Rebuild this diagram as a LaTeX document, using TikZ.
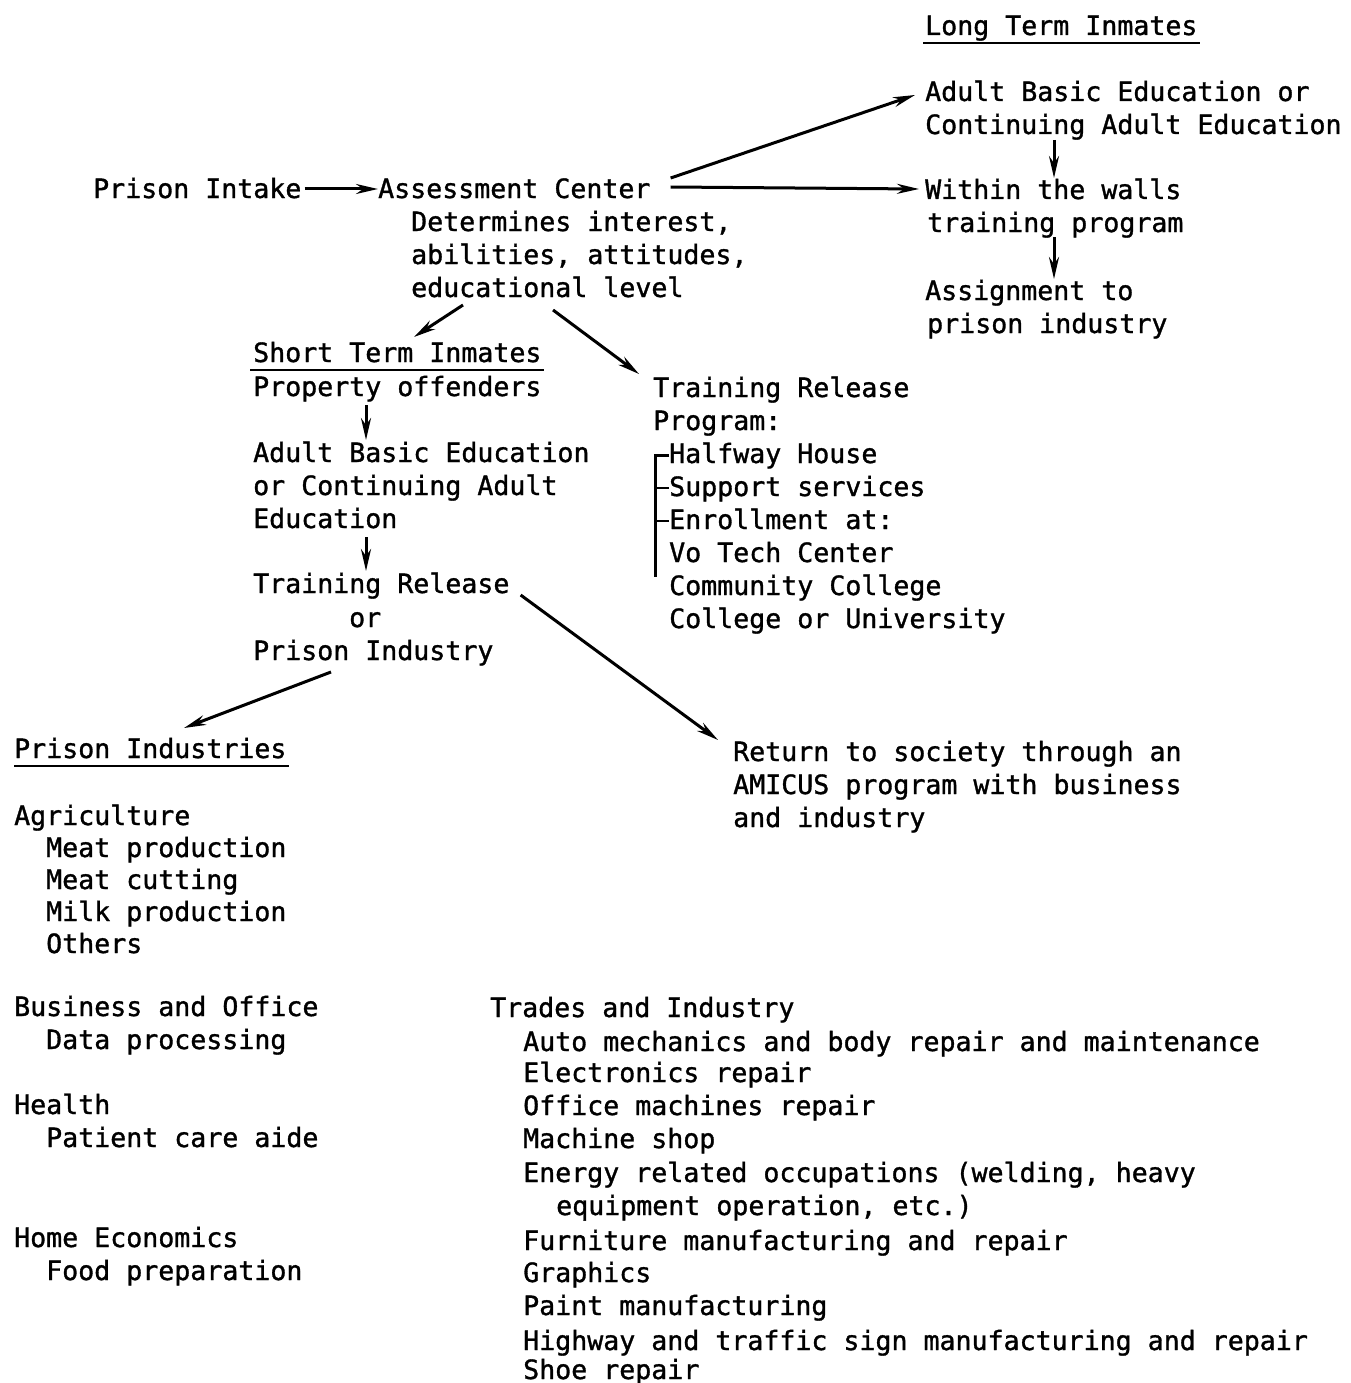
\documentclass[tikz,border=0pt]{standalone}
\usepackage{fontspec}
\setmonofont[FakeBold=1.2]{DejaVu Sans Mono}
\usetikzlibrary{arrows.meta,calc}
\begin{document}
\begin{tikzpicture}[x=1pt,y=-1pt,
  t/.style={anchor=base west,inner sep=0pt,font=\ttfamily\fontsize{26.6}{33}\selectfont},
  arr/.style={line width=3pt,-{Stealth[length=22pt,width=10pt]}},
  ln/.style={line width=2.6pt}]
\useasboundingbox[fill=white] (0,0) rectangle (1350,1383);

% Long term inmates
\node[t] (lti) at (925,35) {Long Term Inmates};
\node[t] (la1) at (925,101) {Adult Basic Education or};
\node[t] (la2) at (925,134) {Continuing Adult Education};
\node[t] (lw1) at (925,199) {Within the walls};
\node[t] (lw2) at (927,232) {training program};
\node[t] (las1) at (925,300) {Assignment to};
\node[t] (las2) at (927,333) {prison industry};

% Intake / assessment
\node[t] (intake) at (93,198) {Prison Intake};
\node[t] (assess) at (378,198) {Assessment Center};
\node[t] (det1) at (411,231) {Determines interest,};
\node[t] (det2) at (411,264) {abilities, attitudes,};
\node[t] (det3) at (411,297) {educational level};

% Short term inmates
\node[t] (sti) at (253,362) {Short Term Inmates};
\node[t] (prop) at (253,396) {Property offenders};
\node[t] (sa1) at (253,462) {Adult Basic Education};
\node[t] (sa2) at (253,495) {or Continuing Adult};
\node[t] (sa3) at (253,528) {Education};
\node[t] (tr1) at (253,593) {Training Release};
\node[t] (tr2) at (349,627) {or};
\node[t] (tr3) at (253,660) {Prison Industry};

% Training release program
\node[t] (trp1) at (653,397) {Training Release};
\node[t] (trp2) at (653,430) {Program:};
\node[t] (hw) at (669,463) {Halfway House};
\node[t] (sup) at (669,496) {Support services};
\node[t] (enr) at (669,529) {Enrollment at:};
\node[t] (vo) at (669,562) {Vo Tech Center};
\node[t] (cc) at (669,595) {Community College};
\node[t] (cu) at (669,628) {College or University};

% Return to society
\node[t] (ret1) at (733,761) {Return to society through an};
\node[t] (ret2) at (733,794) {AMICUS program with business};
\node[t] (ret3) at (733,827) {and industry};

% Prison industries
\node[t] (pind) at (14,758) {Prison Industries};
\node[t] (ag) at (14,825) {Agriculture};
\node[t] (ag1) at (46,857) {Meat production};
\node[t] (ag2) at (46,889) {Meat cutting};
\node[t] (ag3) at (46,921) {Milk production};
\node[t] (ag4) at (46,953) {Others};
\node[t] (bo) at (14,1016) {Business and Office};
\node[t] (bo1) at (46,1049) {Data processing};
\node[t] (he) at (14,1114) {Health};
\node[t] (he1) at (46,1147) {Patient care aide};
\node[t] (hec) at (14,1247) {Home Economics};
\node[t] (hec1) at (46,1280) {Food preparation};

\node[t] (ti) at (490,1017) {Trades and Industry};
\node[t] (ti1) at (523,1051) {Auto mechanics and body repair and maintenance};
\node[t] (ti2) at (523,1082) {Electronics repair};
\node[t] (ti3) at (523,1115) {Office machines repair};
\node[t] (ti4) at (523,1148) {Machine shop};
\node[t] (ti5) at (523,1182) {Energy related occupations (welding, heavy};
\node[t] (ti5b) at (556,1215) {equipment operation, etc.)};
\node[t] (ti6) at (523,1250) {Furniture manufacturing and repair};
\node[t] (ti7) at (523,1282) {Graphics};
\node[t] (ti8) at (523,1315) {Paint manufacturing};
\node[t] (ti9) at (523,1350) {Highway and traffic sign manufacturing and repair};
\node[t] (ti10) at (523,1379) {Shoe repair};

% underlines
\draw[ln] ($(lti.base west)+(-2,8)$) -- ($(lti.base east)+(2,8)$);
\draw[ln] ($(sti.base west)+(-3,8)$) -- ($(sti.base east)+(2,8)$);
\draw[ln] ($(pind.base west)+(0,8)$) -- ($(pind.base east)+(2,8)$);

% bracket
\draw[ln,line width=3pt] ($(hw.base west)+(0,-8)$) -- ($(hw.base west)+(-14,-8)$) -- ($(vo.base west)+(-14,15)$);
\draw[ln] ($(sup.base west)+(0,-8)$) -- ($(sup.base west)+(-14,-8)$);
\draw[ln] ($(enr.base west)+(0,-8)$) -- ($(enr.base west)+(-14,-8)$);

% arrows
\draw[arr] ($(intake.base east)+(3,-9)$) -- ($(assess.base west)+(0,-9)$);
\draw[arr] ($(assess.base east)+(20,-20)$) -- ($(la1.base west)+(-10,-6)$);
\draw[arr] ($(assess.base east)+(20,-11)$) -- ($(lw1.base west)+(-6,-10)$);
\draw[arr] ($(la2.base west)+(129,6)$) -- ($(lw1.base west)+(129,-21)$);
\draw[arr] ($(lw2.base west)+(127,5)$) -- ($(las1.base west)+(129,-21)$);
\draw[arr] ($(det3.base west)+(52,8)$) -- ($(sti.base west)+(161,-25)$);
\draw[arr] ($(det3.base west)+(142,13)$) -- ($(trp1.base west)+(-14,-23)$);
\draw[arr] ($(prop.base west)+(113,9)$) -- ($(sa1.base west)+(113,-22)$);
\draw[arr] ($(sa3.base west)+(113,9)$) -- ($(tr1.base west)+(113,-22)$);
\draw[arr] ($(tr1.base east)+(11,2)$) -- ($(ret1.base west)+(-15,-21)$);
\draw[arr] ($(tr3.base west)+(78,12)$) -- ($(pind.base west)+(170,-30)$);
\end{tikzpicture}
\end{document}
